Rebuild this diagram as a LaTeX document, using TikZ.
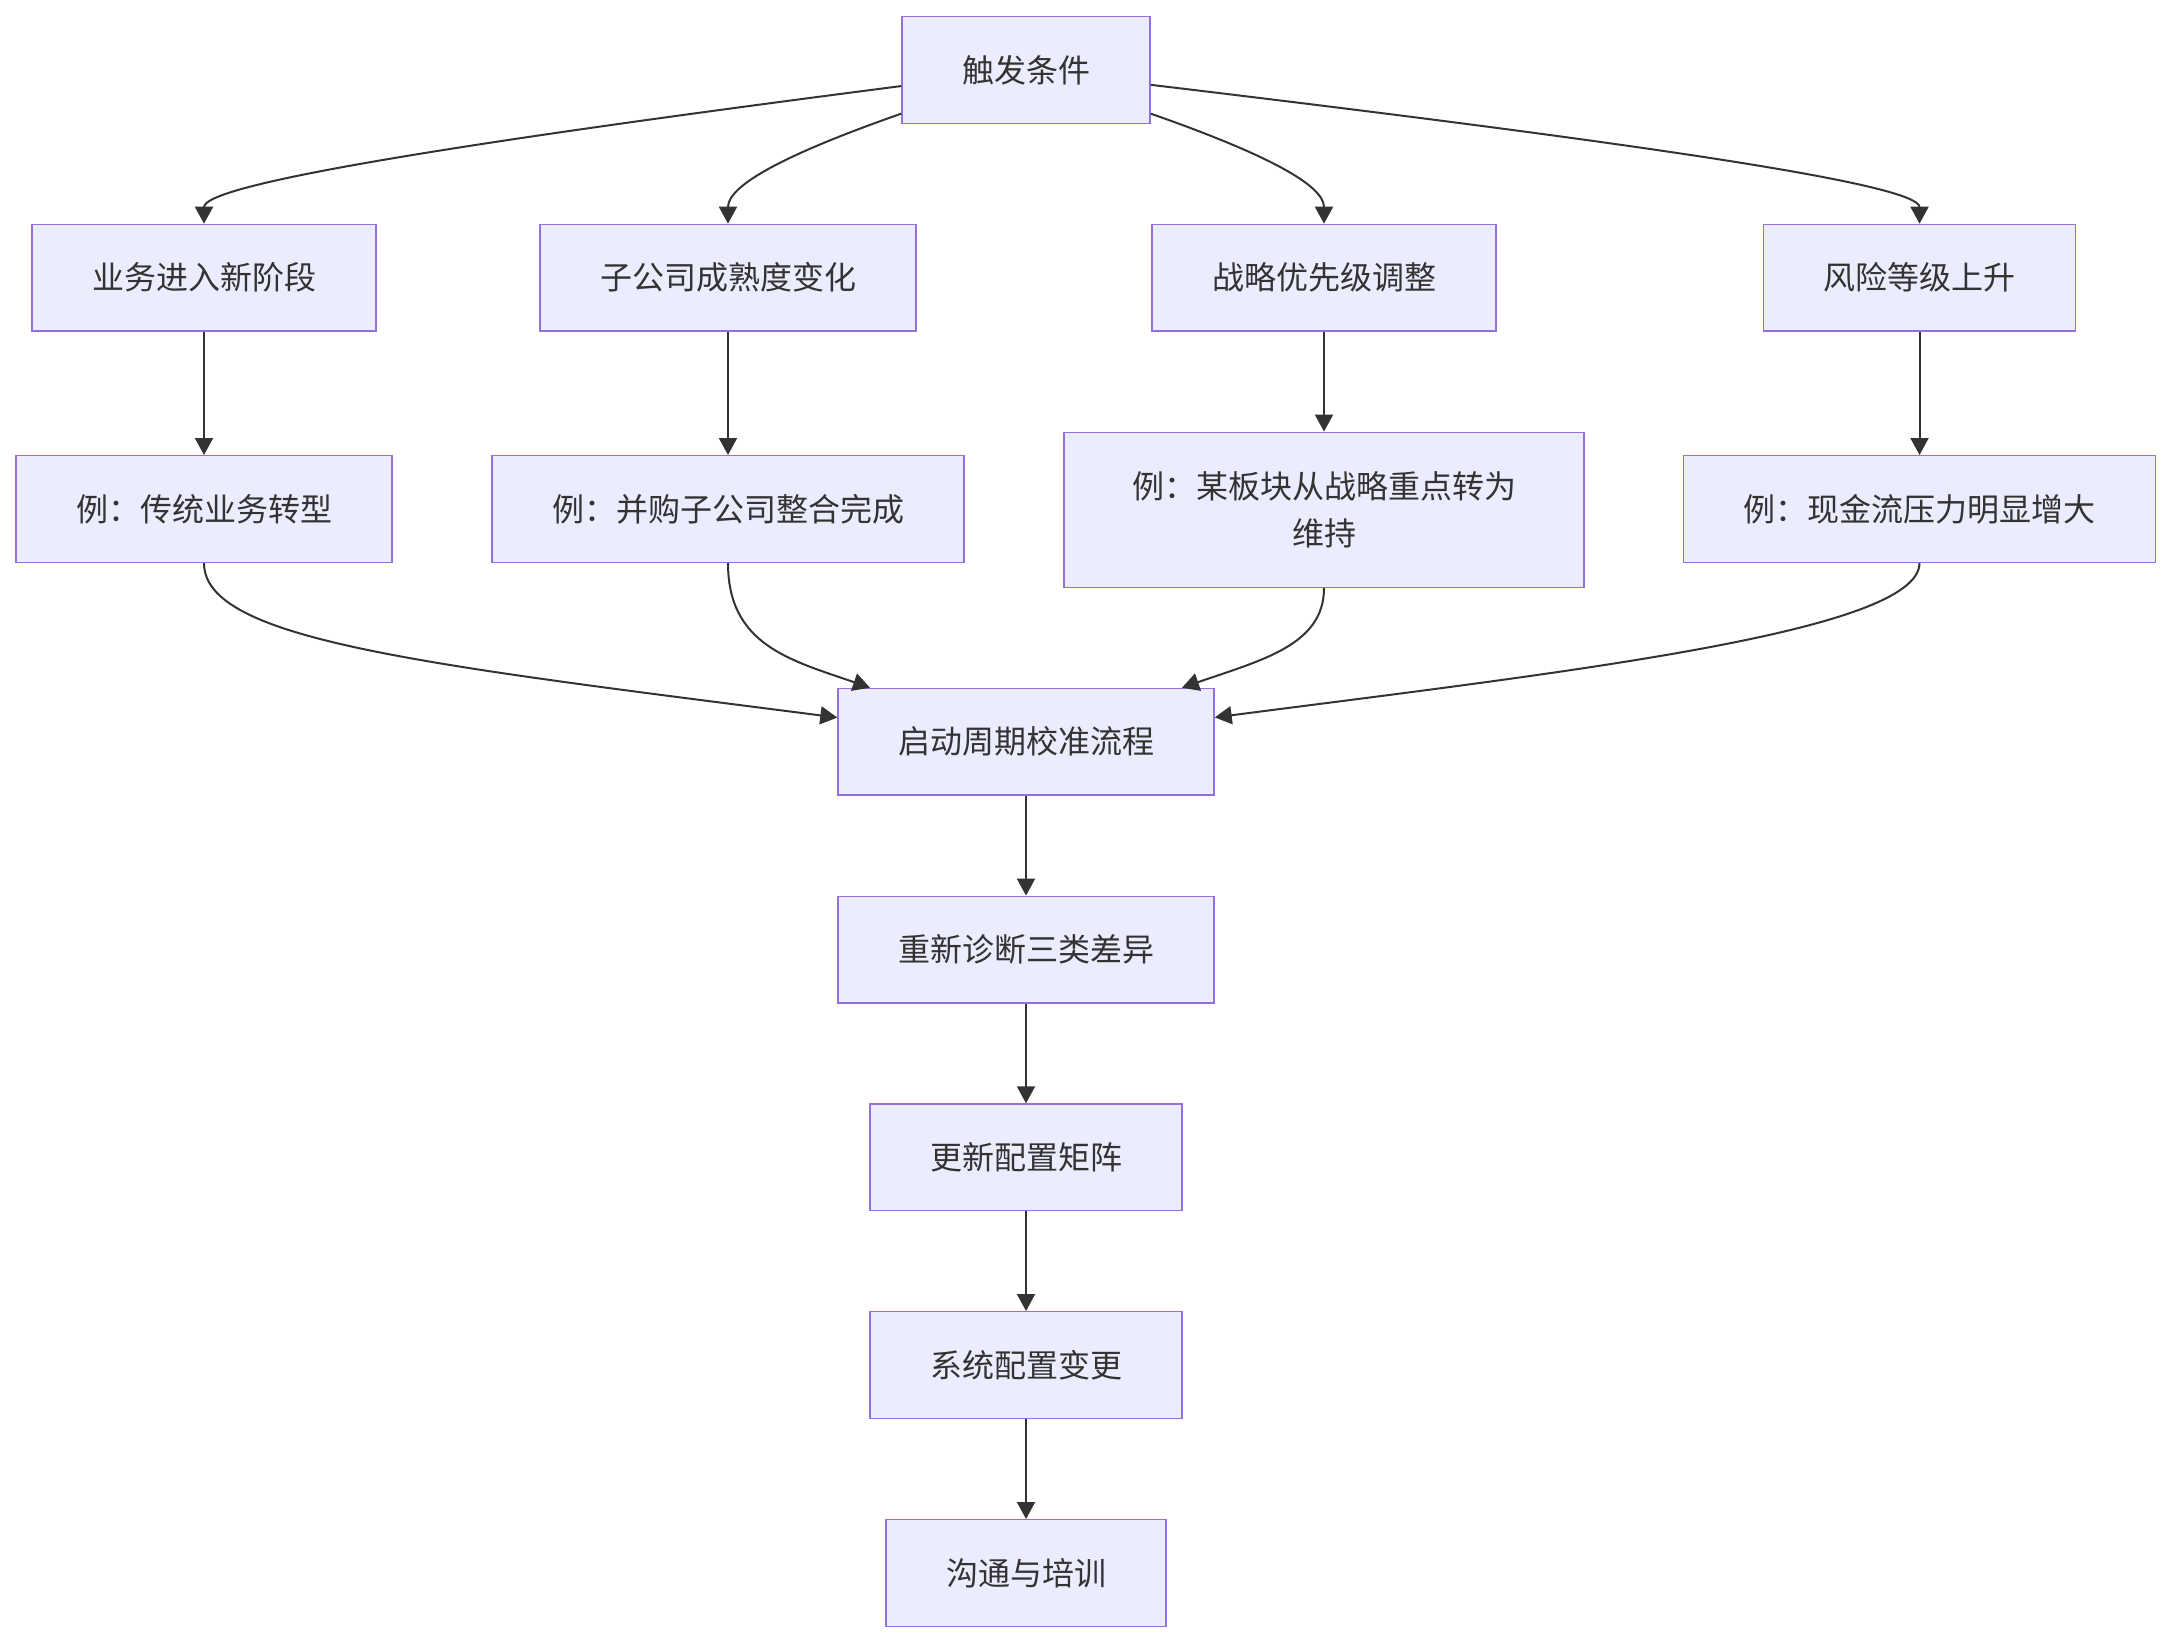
\documentclass[tikz,border=0pt]{standalone}
\usepackage{fontspec}
\setmainfont{Noto Sans CJK SC}
\usetikzlibrary{arrows.meta}
\definecolor{boxfill}{HTML}{ECECFF}
\definecolor{boxline}{HTML}{9370DB}
\definecolor{inkgray}{HTML}{333333}
\begin{document}
\begin{tikzpicture}[x=0.5pt,y=-0.5pt,
  box/.style={draw=boxline, fill=boxfill, line width=0.7pt, text=inkgray,
    font=\fontsize{16}{23.5}\selectfont, inner xsep=30pt, minimum height=53.3pt, align=center},
  link/.style={draw=inkgray, line width=1pt, -{Triangle[length=8.5pt,width=9pt]}}]
\useasboundingbox (0,0) rectangle (2172,1644);
\node[box] (trig) at (1026,70) {触发条件};
\node[box] (stage) at (204,277.7) {业务进入新阶段};
\node[box] (mature) at (728,277.7) {子公司成熟度变化};
\node[box] (prior) at (1324,277.7) {战略优先级调整};
\node[box] (risk) at (1919.5,277.7) {风险等级上升};
\node[box] (exstage) at (204,509) {例：传统业务转型};
\node[box] (exmature) at (728,509) {例：并购子公司整合完成};
\node[box, text width=200pt, minimum height=77.5pt] (exprior) at (1324,509.8)
{例：某板块从战略重点转为\\维持};
\node[box] (exrisk) at (1919.5,509) {例：现金流压力明显增大};
\node[box] (calib) at (1026,741.7) {启动周期校准流程};
\node[box] (diag) at (1026,949.6) {重新诊断三类差异};
\node[box] (matrix) at (1026,1157.3) {更新配置矩阵};
\node[box] (change) at (1026,1365) {系统配置变更};
\node[box] (train) at (1026,1573) {沟通与培训};
\draw[link] (trig) .. controls (436,146) and (204,185) .. (stage);
\draw[link] (trig) .. controls (786,154) and (728,185) .. (mature);
\draw[link] (trig) .. controls (1266,154) and (1324,185) .. (prior);
\draw[link] (trig) .. controls (1663,146) and (1919.5,185) .. (risk);
\draw[link] (stage) -- (exstage);
\draw[link] (mature) -- (exmature);
\draw[link] (prior) -- (exprior);
\draw[link] (risk) -- (exrisk);
\draw[link] (exstage) .. controls (204,640) and (420,664) .. (calib);
\draw[link] (exmature) .. controls (728,645) and (790,660) .. (calib);
\draw[link] (exprior) .. controls (1324,645) and (1262,660) .. (calib);
\draw[link] (exrisk) .. controls (1919.5,632) and (1566,672) .. (calib);
\draw[link] (calib) -- (diag);
\draw[link] (diag) -- (matrix);
\draw[link] (matrix) -- (change);
\draw[link] (change) -- (train);
\end{tikzpicture}
\end{document}
